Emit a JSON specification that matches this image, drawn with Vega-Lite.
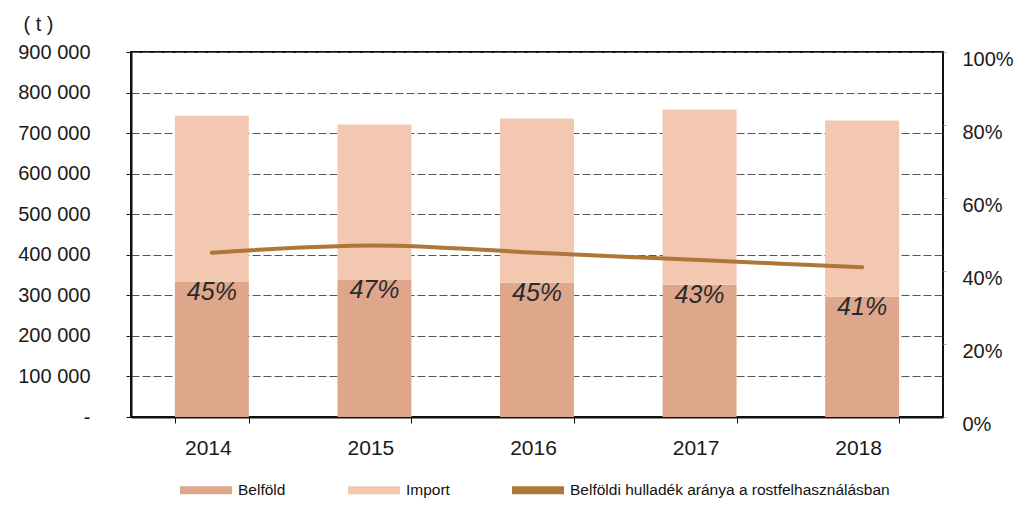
{
  "$schema": "https://vega.github.io/schema/vega-lite/v6.json",
  "width": 812,
  "height": 365,
  "autosize": {"type": "none"},
  "padding": {"left": 131, "top": 52, "right": 74, "bottom": 98},
  "background": "white",
  "config": {
    "font": "Liberation Sans",
    "view": {"stroke": "#111", "strokeWidth": 2},
    "axis": {"labelFont": "Liberation Sans", "labelColor": "#1a1a1a"}
  },
  "data": {
    "values": [
      {"year": "2014", "Belföld": 334000, "Import": 409000, "ratio": 0.45},
      {"year": "2015", "Belföld": 339000, "Import": 382000, "ratio": 0.47},
      {"year": "2016", "Belföld": 331000, "Import": 405000, "ratio": 0.45},
      {"year": "2017", "Belföld": 326000, "Import": 432000, "ratio": 0.43},
      {"year": "2018", "Belföld": 297000, "Import": 434000, "ratio": 0.41}
    ]
  },
  "encoding": {
    "x": {
      "field": "year",
      "type": "nominal",
      "scale": {"paddingInner": 0.545, "paddingOuter": 0.27},
      "axis": {
        "title": null,
        "labelAngle": 0,
        "labelFontSize": 21,
        "labelPadding": 14,
        "labelOffset": -4,
        "tickBand": "extent",
        "tickSize": 6,
        "tickColor": "#111",
        "domainColor": "#111",
        "domainWidth": 2
      }
    }
  },
  "layer": [
    {
      "transform": [{"fold": ["Belföld", "Import"], "as": ["type", "value"]}],
      "mark": {"type": "bar"},
      "encoding": {
        "y": {
          "field": "value",
          "type": "quantitative",
          "stack": "zero",
          "scale": {"domain": [0, 900000], "nice": false},
          "axis": {
            "values": [0, 100000, 200000, 300000, 400000, 500000, 600000, 700000, 800000, 900000],
            "labelExpr": "datum.value == 0 ? '-' : format(datum.value / 1000, 'd') + ' 000'",
            "labelFontSize": 20,
            "labelPadding": 36,
            "tickSize": 5,
            "tickColor": "#111",
            "domainColor": "#111",
            "domainWidth": 2,
            "grid": true,
            "gridColor": "#555",
            "gridDash": [8, 3],
            "gridWidth": 1,
            "title": "( t )",
            "titleAngle": 0,
            "titleFontSize": 20,
            "titleFontWeight": "normal",
            "titleColor": "#1a1a1a",
            "titleX": -108,
            "titleY": -28,
            "titleAlign": "left",
            "titleBaseline": "middle"
          }
        },
        "order": {"field": "type", "sort": "ascending"},
        "color": {
          "field": "type",
          "type": "nominal",
          "scale": {
            "domain": ["Belföld", "Import", "Belföldi hulladék aránya a rostfelhasználásban"],
            "range": ["#dea78c", "#f2c8b0", "#ad773a"]
          },
          "legend": {
            "title": null,
            "orient": "none",
            "legendX": 49,
            "legendY": 412,
            "direction": "horizontal",
            "labelFont": "Liberation Sans",
            "labelFontSize": 15.5,
            "labelLimit": 500,
            "labelColor": "#111",
            "columnPadding": 62,
            "symbolType": "M-1,-0.15L1,-0.15L1,0.15L-1,0.15Z",
            "symbolSize": 2704,
            "symbolStrokeWidth": 0,
            "labelOffset": 6
          }
        }
      }
    },
    {
      "mark": {"type": "line", "strokeWidth": 4, "interpolate": "monotone", "strokeCap": "round"},
      "encoding": {
        "y": {
          "field": "ratio",
          "type": "quantitative",
          "scale": {"domain": [0, 1], "nice": false},
          "axis": {
            "orient": "right",
            "title": null,
            "format": ".0%",
            "values": [0, 0.2, 0.4, 0.6, 0.8, 1],
            "labelFontSize": 20,
            "labelPadding": 16,
            "labelOffset": 7,
            "tickSize": 3,
            "tickColor": "#aaa",
            "domain": false,
            "grid": false
          }
        },
        "color": {"datum": "Belföldi hulladék aránya a rostfelhasználásban"}
      }
    },
    {
      "mark": {"type": "text", "fontSize": 25, "fontStyle": "italic", "color": "#2a2a2a", "dy": 10},
      "encoding": {
        "y": {
          "field": "Belföld",
          "type": "quantitative",
          "scale": {"domain": [0, 900000], "nice": false},
          "axis": null
        },
        "text": {"field": "ratio", "type": "quantitative", "format": ".0%"}
      }
    }
  ],
  "resolve": {"scale": {"y": "independent"}}
}
